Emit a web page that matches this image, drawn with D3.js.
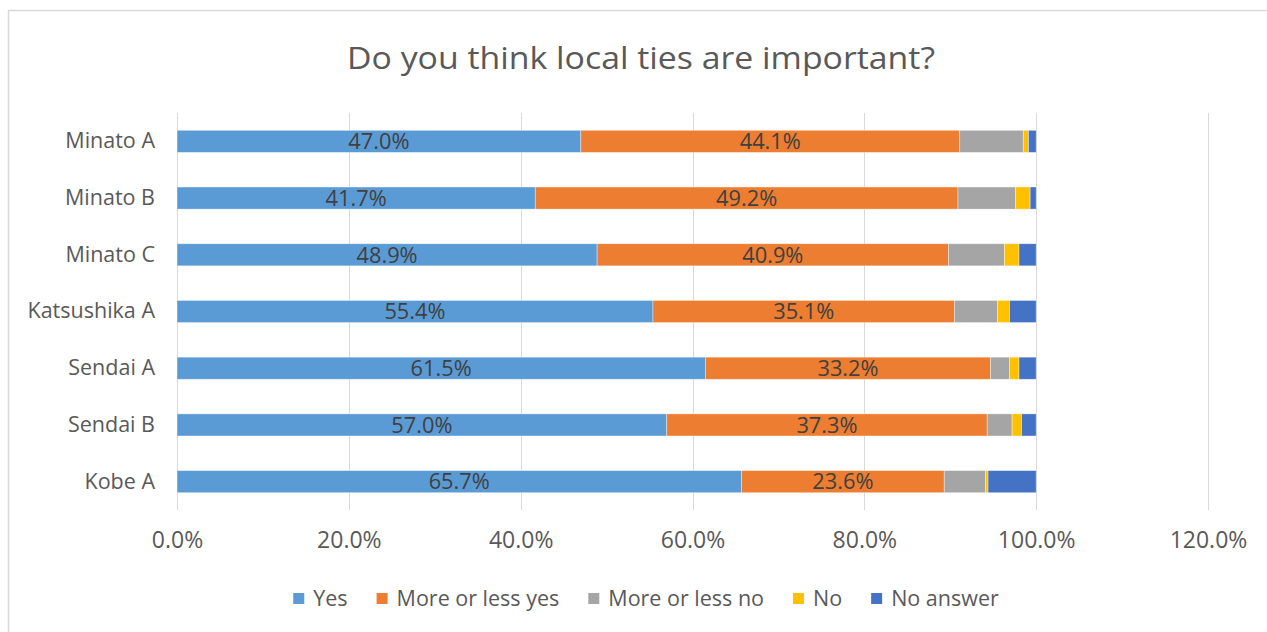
<!DOCTYPE html>
<html>
<head>
<meta charset="utf-8">
<script src="https://cdn.jsdelivr.net/npm/d3@7"></script>
<style>
  body { margin: 0; background: #fff; }
  text { font-family: "Open Sans", "Noto Sans", sans-serif; }
</style>
</head>
<body>
<svg id="chart" width="1267" height="632"></svg>
<script>
// survey areas, top to bottom
var areas = ["Minato A", "Minato B", "Minato C", "Katsushika A", "Sendai A", "Sendai B", "Kobe A"];
var answers = ["Yes", "More or less yes", "More or less no", "No", "No answer"];

// percent per answer, same order as areas
var yes          = [47.0, 41.7, 48.9, 55.4, 61.5, 57.0, 65.7];
var moreLessYes  = [44.1, 49.2, 40.9, 35.1, 33.2, 37.3, 23.6];
var moreLessNo   = [7.4, 6.7, 6.5, 5.0, 2.2, 2.9, 4.8];
var no           = [0.6, 1.7, 1.7, 1.4, 1.1, 1.1, 0.3];
var noAnswer     = [0.9, 0.7, 2.0, 3.1, 2.0, 1.7, 5.6];

var xTicks = [0, 20, 40, 60, 80, 100, 120];
var colors = ["#5B9BD5", "#ED7D31", "#A5A5A5", "#FFC000", "#4472C4"];

var svg = d3.select("#chart");

// frame
svg.append("rect")
	.attr("x", 8.5).attr("y", 10.5)
	.attr("width", 1270).attr("height", 640)
	.attr("fill", "#fff")
	.attr("stroke", "#d9d9d9")
	.attr("stroke-width", 1.5);

svg.append("text")
	.attr("x", 641).attr("y", 69)
	.attr("text-anchor", "middle")
	.attr("font-size", 31)
	.attr("textLength", 588)
	.attr("lengthAdjust", "spacingAndGlyphs")
	.attr("fill", "#595959")
	.text("Do you think local ties are important?");

var xScale = d3.scaleLinear().domain([0, 120]).range([177, 1208]);
var yScale = d3.scaleBand().domain(areas).range([113, 510]).paddingInner(0.61).paddingOuter(0.305);

// gridlines
svg.append("g").selectAll("line")
	.data(xTicks)
	.join("line")
	.attr("x1", function(d){ return Math.round(xScale(d)) + 0.5 })
	.attr("x2", function(d){ return Math.round(xScale(d)) + 0.5 })
	.attr("y1", 113).attr("y2", 510)
	.attr("stroke", "#d9d9d9")
	.attr("stroke-width", 1);

var rows = areas.map(function(a, i){
	return { area: a, Yes: yes[i], "More or less yes": moreLessYes[i], "More or less no": moreLessNo[i], No: no[i], "No answer": noAnswer[i] };
});
var stacked = d3.stack().keys(answers)(rows);

var layers = svg.append("g").selectAll("g")
	.data(stacked)
	.join("g")
	.attr("fill", function(d, i){ return colors[i] });

layers.selectAll("rect")
	.data(function(d){ return d })
	.join("rect")
	.attr("x", function(d){ return xScale(d[0]) })
	.attr("y", function(d){ return yScale(d.data.area) })
	.attr("width", function(d){ return xScale(d[1]) - xScale(d[0]) })
	.attr("height", yScale.bandwidth())
	.attr("stroke", "#fff")
	.attr("stroke-opacity", 0.5)
	.attr("stroke-width", 0.75);

// labels only on the two big segments
stacked.slice(0, 2).forEach(function(layer){
	svg.append("g").selectAll("text")
		.data(layer)
		.join("text")
		.attr("x", function(d){ return (xScale(d[0]) + xScale(d[1])) / 2 })
		.attr("y", function(d){ return yScale(d.data.area) + yScale.bandwidth() / 2 })
		.attr("dy", "0.36em")
		.attr("text-anchor", "middle")
		.attr("font-size", 21.8)
		.attr("fill", "#404040")
		.text(function(d){ return (d[1] - d[0]).toFixed(1) + "%" });
});

// category axis
var yAxis = svg.append("g")
	.attr("transform", "translate(177,0)")
	.call(d3.axisLeft(yScale).tickSize(0).tickPadding(22));
yAxis.select(".domain").remove();
yAxis.selectAll("text")
	.attr("font-size", 21.5)
	.attr("fill", "#595959")
	.style("font-family", "'Open Sans', 'Noto Sans', sans-serif");

// value axis
var xAxis = svg.append("g")
	.attr("transform", "translate(0,510)")
	.call(d3.axisBottom(xScale).tickValues(xTicks).tickSize(0).tickPadding(22)
		.tickFormat(function(d){ return d.toFixed(1) + "%" }));
xAxis.select(".domain").remove();
xAxis.selectAll("text")
	.attr("font-size", 23)
	.attr("fill", "#595959")
	.style("font-family", "'Open Sans', 'Noto Sans', sans-serif");

// legend, laid out from measured text widths and centred
var legend = svg.append("g");
var lx = 0;
answers.forEach(function(a, i){
	var item = legend.append("g").attr("transform", "translate(" + lx + ",0)");
	item.append("rect")
		.attr("x", 0).attr("y", -5)
		.attr("width", 11).attr("height", 11)
		.attr("fill", colors[i]);
	var t = item.append("text")
		.attr("x", 20).attr("dy", "0.35em")
		.attr("font-size", 21.5)
		.attr("fill", "#595959")
		.text(a);
	lx += 20 + t.node().getComputedTextLength() + 29;
});
lx -= 29;
legend.attr("transform", "translate(" + (646 - lx / 2) + ",598)");
</script>
</body>
</html>
